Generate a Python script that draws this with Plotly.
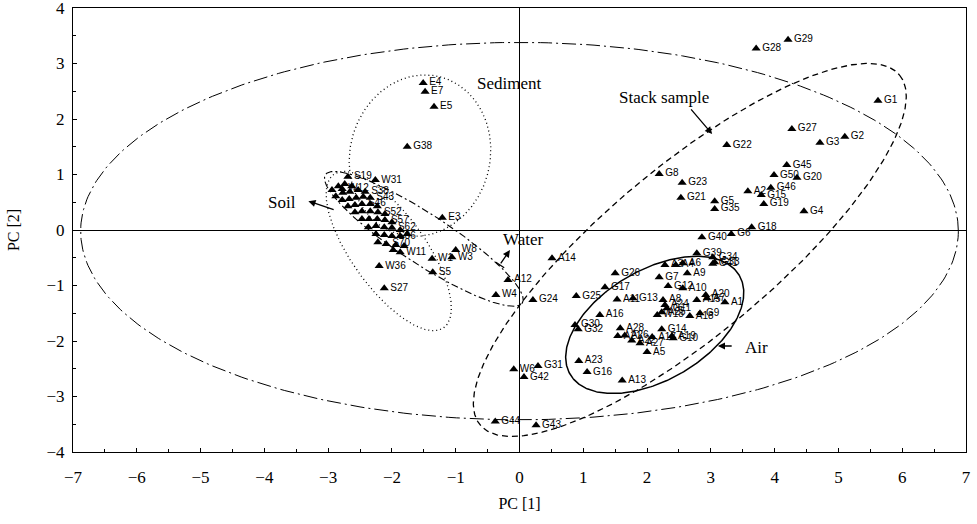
import numpy as np
import plotly.graph_objects as go

# ---------------- data (PC1, PC2 scores) ----------------
stack_names = ["G1","G2","G3","G4","G5","G6","G7","G8","G9","G10","G11","G12","G13","G14",
               "G15","G16","G17","G18","G19","G20","G21","G22","G23","G24","G25","G26","G27",
               "G28","G29","G30","G31","G32","G33","G34","G35","G38","G39","G40","G41","G42",
               "G43","G44","G45","G46","G50"]
stack_x = [5.62,5.10,4.71,4.46,3.06,3.32,2.19,2.19,2.83,2.41,2.31,2.33,1.78,2.23,
           3.79,1.06,1.34,3.64,3.83,4.35,2.53,3.25,2.55,0.21,0.89,1.50,4.27,
           3.71,4.21,0.87,0.29,0.92,3.06,3.03,3.06,-1.76,2.78,2.86,3.03,0.07,
           0.26,-0.38,4.19,3.94,3.99]
stack_y = [2.33,1.68,1.57,0.34,0.52,-0.07,-0.85,1.01,-1.50,-1.95,-1.41,-1.01,-1.23,-1.79,
           0.63,-2.56,-1.03,0.05,0.47,0.94,0.58,1.53,0.85,-1.26,-1.19,-0.78,1.82,
           3.27,3.43,-1.71,-2.45,-1.79,-0.58,-0.49,0.38,1.50,-0.42,-0.13,-0.61,-2.65,
           -3.52,-3.45,1.17,0.76,0.99]

air_names = ["A1","A2","A3","A4","A5","A6","A7","A8","A9","A10","A11","A12","A13","A14",
             "A15","A16","A17","A18","A19","A20","A21","A22","A23","A24","A25","A26","A27","A28"]
air_x = [3.22,3.58,2.28,2.45,2.00,2.56,2.94,2.25,2.63,2.56,1.53,-0.18,1.61,0.51,
         2.78,1.26,2.08,2.67,2.39,2.92,1.54,1.76,0.93,2.28,2.23,1.65,1.89,1.58]
air_y = [-1.30,0.70,-0.63,-0.63,-2.20,-0.60,-1.23,-1.26,-0.78,-1.05,-1.25,-0.90,-2.71,-0.51,
         -1.26,-1.53,-1.93,-1.55,-1.91,-1.17,-1.91,-1.99,-2.36,-1.35,-1.48,-1.90,-2.04,-1.77]

water_names = ["W1","W3","W4","W6","W8","W11","W12","W18","W31","W36"]
water_x = [-1.37,-1.06,-0.37,-0.09,-1.00,-1.87,-2.78,2.16,-2.26,-2.20]
water_y = [-0.52,-0.49,-1.17,-2.51,-0.36,-0.40,0.74,-1.53,0.90,-0.65]

sed_names = ["E3","E4","E5","E7"]
sed_x = [-1.21,-1.51,-1.34,-1.48]
sed_y = [0.22,2.65,2.22,2.49]

soil_names = ["S5","S19","S27"] + ["S%d" % i for i in range(30, 74)]
soil_x = [-1.36,-2.69,-2.12,
          -2.94,-2.84,-2.74,-2.63,-2.88,-2.77,-2.66,-2.53,-2.42,-2.78,-2.67,-2.56,-2.45,-2.34,
          -2.69,-2.58,-2.47,-2.34,-2.23,-2.58,-2.47,-2.34,-2.22,-2.11,-2.47,-2.36,-2.23,-2.11,
          -2.00,-2.37,-2.25,-2.12,-2.00,-1.87,-2.25,-2.12,-2.00,-1.87,-1.76,-2.22,-2.09,-1.94,
          -1.81,-1.98]
soil_y = [-0.76,0.96,-1.05,
          0.72,0.79,0.83,0.79,0.61,0.67,0.69,0.72,0.69,0.54,0.56,0.58,0.60,0.58,
          0.43,0.45,0.47,0.47,0.43,0.32,0.34,0.34,0.32,0.29,0.20,0.20,0.20,0.18,
          0.14,0.05,0.07,0.05,0.04,0.00,-0.07,-0.09,-0.11,-0.11,-0.07,-0.22,-0.25,-0.27,
          -0.29,-0.36]
soil_labelled = {"S5","S19","S27","S38","S43","S46","S52","S57","S62","S66","S70"}

x_ticks = [-7,-6,-5,-4,-3,-2,-1,0,1,2,3,4,5,6,7]
y_ticks = [-4,-3,-2,-1,0,1,2,3,4]

# ---------------- figure ----------------
SERIF = "Liberation Serif, Times New Roman, serif"
SANS = "Liberation Sans, Arial, sans-serif"

fig = go.Figure()


def ellipse(cx, cy, ux, uy, vx, vy, n=360):
    t = np.linspace(0, 2 * np.pi, n)
    return cx + ux * np.cos(t) + vx * np.sin(t), cy + uy * np.cos(t) + vy * np.sin(t)


ellipses = [
    dict(c=(0.0, -0.02), u=(6.88, 0.0), v=(0.0, 3.40), dash="14px,4px,2px,4px", w=1.0),
    dict(c=(2.67, -0.36), u=(3.287, 3.153), v=(0.843, -1.164), dash="6px,4px", w=1.3),
    dict(c=(2.12, -1.71), u=(1.327, 0.890), v=(0.434, -0.857), dash="solid", w=1.5),
    dict(c=(-1.56, 1.34), u=(0.317, 1.419), v=(1.064, -0.316), dash="1px,3px", w=1.3),
    dict(c=(-2.05, -0.38), u=(0.862, -1.381), v=(0.47, 0.39), dash="1px,3px", w=1.3),
    dict(c=(-1.50, -0.16), u=(1.544, -1.155), v=(0.213, 0.378), dash="7px,3px,2px,3px", w=1.1),
]
for e in ellipses:
    ex, ey = ellipse(*e["c"], *e["u"], *e["v"])
    fig.add_trace(go.Scatter(x=ex, y=ey, mode="lines",
                             line=dict(color="black", width=e["w"], dash=e["dash"]),
                             hoverinfo="skip", showlegend=False))


def add_points(names, xs, ys, labelled=None):
    texts = [n if (labelled is None or n in labelled) else "" for n in names]
    fig.add_trace(go.Scatter(
        x=xs, y=ys, mode="markers+text", text=texts, textposition="middle right",
        textfont=dict(family=SANS, size=10, color="black"),
        marker=dict(symbol="triangle-up", size=8, color="black"),
        showlegend=False, cliponaxis=False))


add_points(soil_names, soil_x, soil_y, soil_labelled)
add_points(sed_names, sed_x, sed_y)
add_points(water_names, water_x, water_y)
add_points(air_names, air_x, air_y)
add_points(stack_names, stack_x, stack_y)

# group labels
group_labels = [
    ("Sediment", -0.17, 2.64),
    ("Stack sample", 2.26, 2.38),
    ("Soil", -3.72, 0.49),
    ("Water", 0.06, -0.18),
    ("Air", 3.72, -2.11),
]
for txt, gx, gy in group_labels:
    fig.add_annotation(x=gx, y=gy, text=txt, showarrow=False,
                       font=dict(family=SERIF, size=17, color="black"))

arrows = [
    ((2.67, 2.20), (3.02, 1.73)),   # stack sample
    ((-2.89, 0.36), (-3.31, 0.52)),  # soil
    ((-0.31, -0.63), (-0.15, -0.36)),  # water
    ((3.35, -2.09), (3.11, -2.09)),  # air
]
for (tx, ty), (hx, hy) in arrows:
    fig.add_annotation(x=hx, y=hy, ax=tx, ay=ty, xref="x", yref="y", axref="x", ayref="y",
                       text="", showarrow=True, arrowhead=2, arrowsize=1.1,
                       arrowwidth=1.3, arrowcolor="black")
# bar at the tail of the water arrow
fig.add_shape(type="line", x0=-0.37, y0=-0.58, x1=-0.24, y1=-0.68,
              line=dict(color="black", width=1.3))

axis_common = dict(
    showgrid=False, zeroline=True, zerolinecolor="black", zerolinewidth=1,
    showline=True, linecolor="black", linewidth=1.2, mirror=True,
    ticks="inside", ticklen=4, tickcolor="black",
    minor=dict(ticks="inside", ticklen=3, dtick=0.5, tickcolor="black"),
    tickfont=dict(family=SERIF, size=17, color="black"),
    ticklabeloverflow="allow", automargin=False,
)
fig.update_xaxes(range=[-7, 7], tickvals=x_ticks, ticklabelstandoff=9,
                 title=dict(text="PC [1]", font=dict(family=SERIF, size=16, color="black"), standoff=12),
                 **axis_common)
fig.update_yaxes(range=[-4, 4], tickvals=y_ticks, ticklabelstandoff=4,
                 title=dict(text="PC [2]", font=dict(family=SERIF, size=16, color="black"), standoff=22),
                 **axis_common)

fig.update_layout(width=977, height=524,
                  margin=dict(l=73, r=11, t=8, b=72, autoexpand=False),
                  plot_bgcolor="white", paper_bgcolor="white", showlegend=False)

fig.write_html("out.html")
